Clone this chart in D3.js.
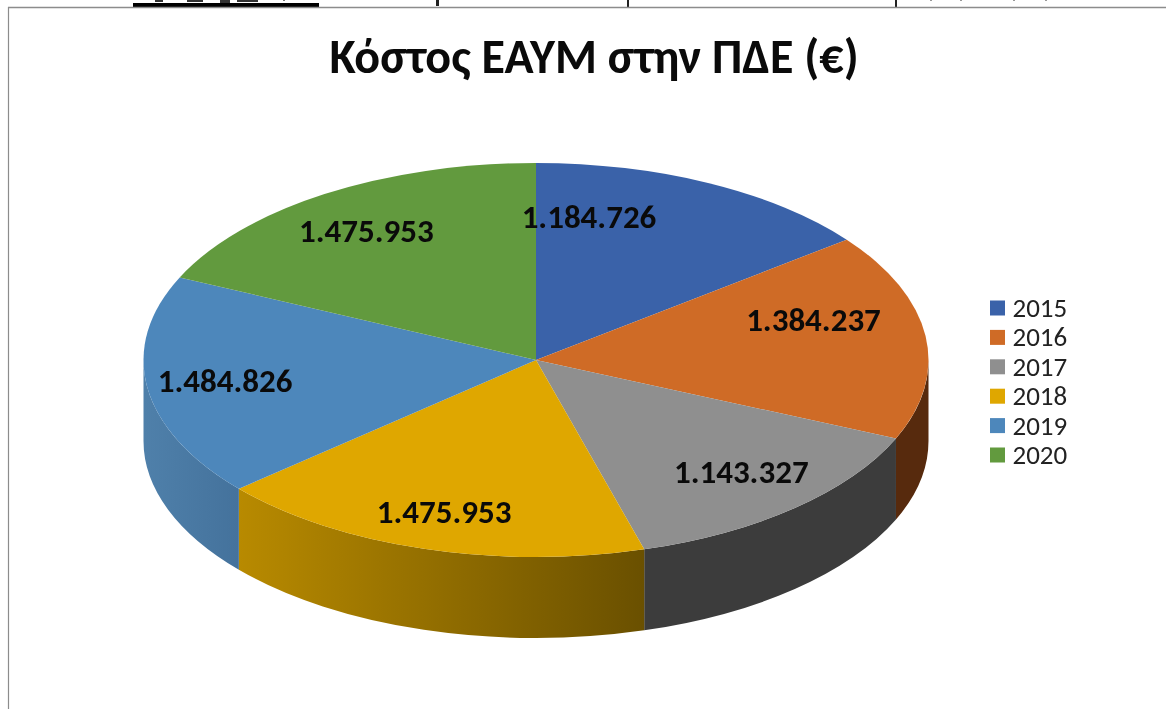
<!DOCTYPE html>
<html><head><meta charset="utf-8">
<script src="https://cdn.jsdelivr.net/npm/d3@7/dist/d3.min.js"></script>
<style>
html,body{margin:0;padding:0;background:#fff;overflow:hidden}
svg{display:block;filter:blur(0.4px)}
text{font-family:Carlito,Lato,"Open Sans","Noto Sans",sans-serif}
</style></head><body>
<svg id="c" width="1166" height="709"></svg>
<script>
const chartTitle = "Κόστος ΕΑΥΜ στην ΠΔΕ (€)";
const years = ["2015","2016","2017","2018","2019","2020"];
const costs = [1184726,1384237,1143327,1475953,1484826,1475953];
const costLabels = ["1.184.726","1.384.237","1.143.327","1.475.953","1.484.826","1.475.953"];
const topColors = ["#3a62a9","#cf6b26","#8f8f8f","#dfa700","#4d87bb","#629a3e"];
const wallFrom = ["#28446f","#572a0d","#3c3c3c","#b88a00","#4f80aa","#40652a"];
const wallTo   = ["#28446f","#572a0d","#3c3c3c","#6a5000","#44729c","#40652a"];
// hand-placed label anchors (ellipse-normalised, as in the original)
const labelAnchorX = [0.135,0.707,0.523,-0.234,-0.792,-0.432];
const labelAnchorY = [0.726,0.203,-0.569,-0.772,-0.107,0.655];

const W=1166,H=709,cx=536,cy=360,rx=392.5,ry=197,depth=81;
const svg=d3.select("#c");
const defs=svg.append("defs");
const px=d3.scaleLinear().domain([-1,1]).range([cx-rx,cx+rx]);
const py=d3.scaleLinear().domain([-1,1]).range([cy+ry,cy-ry]);

// page frame and the clipped line of text above the chart
svg.append("rect").attr("width",W).attr("height",H).attr("fill","#fff");
svg.append("rect").attr("x",133).attr("y",3).attr("width",186).attr("height",4).attr("fill","#000");
[[155,8,2,"#333"],[187,16,2,"#333"],[220,10,3,"#333"],[237,21,2,"#333"],[283,2,1,"#777"],
 [436,3,6,"#222"],[627,2,7,"#222"],[895,2,7,"#222"],
 [930,2,1,"#999"],[960,2,1,"#999"],[1013,2,1,"#999"],[1045,2,1,"#999"]].forEach(([x,w,h,c])=>{
  svg.append("rect").attr("x",x).attr("y",0).attr("width",w).attr("height",h).attr("fill",c);
});
svg.append("line").attr("x1",8).attr("x2",W).attr("y1",7.5).attr("y2",7.5).attr("stroke","#8c8c8c").attr("stroke-width",1.5);
svg.append("line").attr("x1",8.5).attr("x2",8.5).attr("y1",7).attr("y2",H).attr("stroke","#8c8c8c").attr("stroke-width",1.2);

const slices=d3.pie().sort(null).value(d=>d)(costs);
const ex=a=>cx+rx*Math.sin(a), ey=a=>cy-ry*Math.cos(a);

// side walls: only the near half of the ellipse shows
const walls=svg.append("g");
slices.forEach((s,i)=>{
  const a0=Math.max(s.startAngle,Math.PI/2), a1=Math.min(s.endAngle,Math.PI*1.5);
  if(a1<=a0) return;
  const gid="w"+i;
  const g=defs.append("linearGradient").attr("id",gid).attr("gradientUnits","userSpaceOnUse")
    .attr("x1",ex(a1)).attr("x2",ex(a0)).attr("y1",0).attr("y2",0);
  g.append("stop").attr("offset",0).attr("stop-color",wallFrom[i]);
  g.append("stop").attr("offset",1).attr("stop-color",wallTo[i]);
  const p=`M${ex(a0)},${ey(a0)}A${rx},${ry} 0 0 1 ${ex(a1)},${ey(a1)}`+
          `L${ex(a1)},${ey(a1)+depth}A${rx},${ry} 0 0 0 ${ex(a0)},${ey(a0)+depth}Z`;
  walls.append("path").attr("d",p).attr("fill",`url(#${gid})`);
});

// top face
const arc=d3.arc().innerRadius(0).outerRadius(rx);
svg.append("g").attr("transform",`translate(${cx},${cy}) scale(1,${ry/rx})`)
  .selectAll("path").data(slices).join("path")
  .attr("d",arc).attr("fill",(d,i)=>topColors[i]);

// value labels
svg.append("g").selectAll("text").data(costLabels).join("text")
  .attr("x",(d,i)=>px(labelAnchorX[i])).attr("y",(d,i)=>py(labelAnchorY[i]))
  .attr("text-anchor","middle").attr("dominant-baseline","central")
  .attr("font-size",33).attr("font-weight",700).attr("fill","#0a0a0a").text(d=>d);

// title
svg.append("text").attr("x",594).attr("y",73).attr("text-anchor","middle")
  .attr("font-size",48).attr("font-weight",700).attr("fill","#0a0a0a").text(chartTitle);

// legend
const ly=d3.scalePoint().domain(years).range([307.5,454.5]);
const lg=svg.append("g").selectAll("g").data(years).join("g")
  .attr("transform",d=>`translate(990,${ly(d)})`);
lg.append("rect").attr("y",-7).attr("width",15).attr("height",15).attr("fill",(d,i)=>topColors[i]);
lg.append("text").attr("x",22.5).attr("dominant-baseline","central").attr("font-size",27).attr("fill","#222").text(d=>d);
</script></body></html>
